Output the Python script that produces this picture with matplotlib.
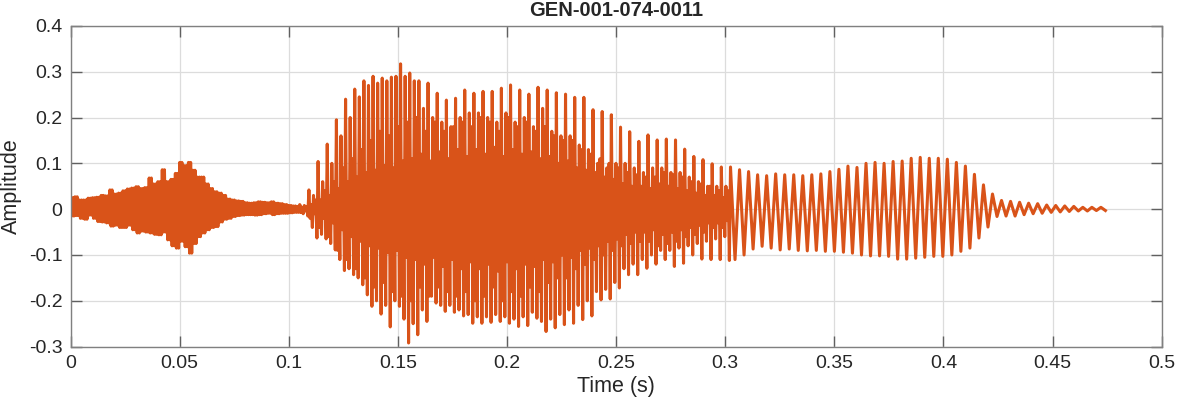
import numpy as np
import matplotlib
matplotlib.use("Agg")
import matplotlib.pyplot as plt

# ------------------------------------------------------------
# values
# ------------------------------------------------------------
title_txt = "GEN-001-074-0011"

# unvoiced start: upper / lower envelope every 2 ms from t = 0
noise_step = 0.002
noise_hi = [0.025, 0.027, 0.020, 0.020, 0.024, 0.025, 0.026, 0.030, 0.029, 0.042,
            0.033, 0.035, 0.040, 0.044, 0.046, 0.049, 0.045, 0.047, 0.068, 0.055,
            0.060, 0.086, 0.060, 0.065, 0.078, 0.102, 0.095, 0.102, 0.085, 0.070,
            0.070, 0.055, 0.045, 0.038, 0.035, 0.030, 0.022, 0.020, 0.018, 0.017,
            0.014, 0.013, 0.014, 0.016, 0.015, 0.014, 0.016, 0.013, 0.012, 0.010,
            0.008, 0.007, 0.006]
noise_lo = [-0.015, -0.014, -0.020, -0.022, -0.013, -0.020, -0.027, -0.028, -0.030, -0.037,
            -0.035, -0.040, -0.040, -0.035, -0.045, -0.052, -0.048, -0.050, -0.052, -0.055,
            -0.056, -0.050, -0.067, -0.080, -0.085, -0.070, -0.082, -0.096, -0.075, -0.060,
            -0.052, -0.045, -0.040, -0.038, -0.028, -0.022, -0.020, -0.016, -0.014, -0.013,
            -0.012, -0.012, -0.013, -0.012, -0.010, -0.009, -0.012, -0.010, -0.009, -0.009,
            -0.008, -0.007, -0.007]

# voiced, dense part: one value per pitch cycle
dense_start = 0.105
dense_period = 0.0042
dense_peak = [0.010, 0.042, 0.104, 0.142, 0.195, 0.240, 0.262, 0.280, 0.290, 0.286,
              0.288, 0.317, 0.297, 0.280, 0.275, 0.253, 0.238, 0.242, 0.260, 0.253,
              0.257, 0.257, 0.264, 0.271, 0.260, 0.251, 0.266, 0.260, 0.254, 0.251,
              0.244, 0.244, 0.217, 0.213, 0.206, 0.179, 0.169, 0.148, 0.162, 0.151,
              0.153, 0.151, 0.131, 0.115, 0.108, 0.099, 0.092]
dense_peak2 = [0.008, 0.030, 0.060, 0.100, 0.160, 0.200, 0.245, 0.270, 0.275, 0.280,
               0.290, 0.290, 0.280, 0.220, 0.200, 0.190, 0.180, 0.200, 0.210, 0.210,
               0.200, 0.190, 0.210, 0.190, 0.200, 0.180, 0.220, 0.170, 0.160, 0.160,
               0.140, 0.130, 0.100, 0.090, 0.100, 0.100, 0.090, 0.080, 0.090, 0.090,
               0.080, 0.080, 0.070, 0.060, 0.050, 0.050, 0.050]
dense_trough = [-0.015, -0.063, -0.065, -0.089, -0.134, -0.143, -0.165, -0.212, -0.229, -0.257,
                -0.212, -0.292, -0.274, -0.245, -0.205, -0.223, -0.225, -0.233, -0.249, -0.249,
                -0.247, -0.245, -0.249, -0.256, -0.254, -0.238, -0.267, -0.259, -0.252, -0.249,
                -0.241, -0.233, -0.198, -0.196, -0.172, -0.143, -0.143, -0.129, -0.120, -0.110,
                -0.125, -0.118, -0.100, -0.109, -0.110, -0.110, -0.112]
dense_trough2 = [-0.010, -0.040, -0.055, -0.075, -0.110, -0.130, -0.150, -0.187, -0.200, -0.210,
                 -0.200, -0.240, -0.250, -0.220, -0.190, -0.210, -0.210, -0.220, -0.230, -0.235,
                 -0.235, -0.230, -0.235, -0.240, -0.235, -0.225, -0.245, -0.240, -0.230, -0.220,
                 -0.210, -0.200, -0.180, -0.175, -0.160, -0.130, -0.120, -0.110, -0.100, -0.090,
                 -0.090, -0.085, -0.080, -0.075, -0.070, -0.065, -0.060]
# mid-height spikes and the solid core inside each cycle
dense_mid = [0.006, 0.020, 0.040, 0.060, 0.090, 0.110, 0.130, 0.150, 0.170, 0.160,
             0.180, 0.190, 0.200, 0.170, 0.190, 0.170, 0.180, 0.190, 0.180, 0.200,
             0.190, 0.170, 0.200, 0.180, 0.190, 0.170, 0.180, 0.160, 0.150, 0.150,
             0.130, 0.120, 0.110, 0.100, 0.090, 0.080, 0.075, 0.070, 0.070, 0.080,
             0.075, 0.070, 0.060, 0.055, 0.050, 0.040, 0.040]
dense_core = [0.004, 0.010, 0.020, 0.030, 0.045, 0.060, 0.070, 0.080, 0.085, 0.095,
              0.090, 0.105, 0.110, 0.120, 0.105, 0.125, 0.110, 0.130, 0.115, 0.130,
              0.120, 0.135, 0.115, 0.130, 0.120, 0.125, 0.110, 0.115, 0.100, 0.105,
              0.090, 0.085, 0.080, 0.070, 0.065, 0.055, 0.050, 0.050, 0.045, 0.055,
              0.050, 0.045, 0.040, 0.035, 0.030, 0.030, 0.025]

# voiced, clean part + decay
clean_start = 0.3024
clean_period = 0.00414
clean_peak = [0.092, 0.086, 0.082, 0.075, 0.073, 0.077, 0.075, 0.075, 0.073, 0.075,
              0.077, 0.082, 0.087, 0.094, 0.091, 0.100, 0.102, 0.100, 0.104, 0.105,
              0.111, 0.113, 0.111, 0.111, 0.109, 0.102, 0.094, 0.076, 0.053, 0.033,
              0.019, 0.017, 0.015, 0.013, 0.012, 0.009, 0.008, 0.007, 0.006, 0.004,
              0.004, 0.004]
clean_trough = [-0.110, -0.100, -0.087, -0.081, -0.085, -0.089, -0.087, -0.090, -0.091, -0.090,
                -0.092, -0.092, -0.094, -0.096, -0.100, -0.102, -0.102, -0.103, -0.109, -0.109,
                -0.107, -0.105, -0.103, -0.103, -0.100, -0.092, -0.085, -0.063, -0.039, -0.016,
                -0.015, -0.015, -0.012, -0.010, -0.009, -0.007, -0.006, -0.005, -0.004, -0.004,
                -0.003, -0.003]

xticks = [0, 0.05, 0.1, 0.15, 0.2, 0.25, 0.3, 0.35, 0.4, 0.45, 0.5]
xtick_labels = ["0", "0.05", "0.1", "0.15", "0.2", "0.25", "0.3", "0.35", "0.4", "0.45", "0.5"]
yticks = [-0.3, -0.2, -0.1, 0, 0.1, 0.2, 0.3, 0.4]
ytick_labels = ["-0.3", "-0.2", "-0.1", "0", "0.1", "0.2", "0.3", "0.4"]

# ------------------------------------------------------------
# build the trace: each entry is drawn as a few strokes
# ------------------------------------------------------------
hi = np.array(noise_hi)
lo = np.array(noise_lo)
t_n = np.arange(len(hi)) * noise_step
x_n = (t_n[:, None] + np.array([0, 0.25, 0.5, 0.75])[None, :] * noise_step).ravel()
y_n = np.column_stack([hi, lo, hi, lo]).ravel()

m = np.array(dense_mid)
c = np.array(dense_core)
t_d = dense_start + np.arange(len(m)) * dense_period
x_d = (t_d[:, None] + np.arange(8)[None, :] / 8 * dense_period).ravel()
y_d = np.column_stack([dense_peak, -m, c, dense_trough2,
                       dense_peak2, -c, m, dense_trough]).ravel()

t_c = clean_start + np.arange(len(clean_peak)) * clean_period
x_c = (t_c[:, None] + np.array([0, 0.5])[None, :] * clean_period).ravel()
y_c = np.column_stack([clean_peak, clean_trough]).ravel()

t_all = np.concatenate([x_n, x_d, x_c])
y_all = np.concatenate([y_n, y_d, y_c])

# ------------------------------------------------------------
# plot (MATLAB look)
# ------------------------------------------------------------
plt.rcParams['font.family'] = ['Liberation Sans', 'DejaVu Sans']
plt.rcParams['axes.unicode_minus'] = False

fig = plt.figure(figsize=(11.77, 4.04), dpi=100)
ax = fig.add_axes([0.060, 0.142, 0.927, 0.794])

ax.plot(t_all, y_all, color='#D95319', lw=2.2)

ax.set_xlim(0, 0.5)
ax.set_ylim(-0.3, 0.4)
ax.set_xticks(xticks)
ax.set_xticklabels(xtick_labels)
ax.set_yticks(yticks)
ax.set_yticklabels(ytick_labels)

ax.grid(True, color='#dcdcdc', lw=0.9)
ax.set_axisbelow(True)
for s in ax.spines.values():
    s.set_color('#808080')
    s.set_linewidth(1.0)
ax.tick_params(direction='in', length=8, width=1.0, color='#606060',
               top=True, right=True, labelsize=14, labelcolor='#262626', pad=6)

ax.set_title(title_txt, fontsize=14.5, fontweight='bold', color='#262626', pad=7)
ax.set_xlabel("Time (s)", fontsize=15.5, color='#262626')
ax.set_ylabel("Amplitude", fontsize=15.5, color='#262626')
ax.xaxis.set_label_coords(0.5, -0.09)
ax.yaxis.set_label_coords(-0.045, 0.5)

fig.savefig("out.png", dpi=100)
